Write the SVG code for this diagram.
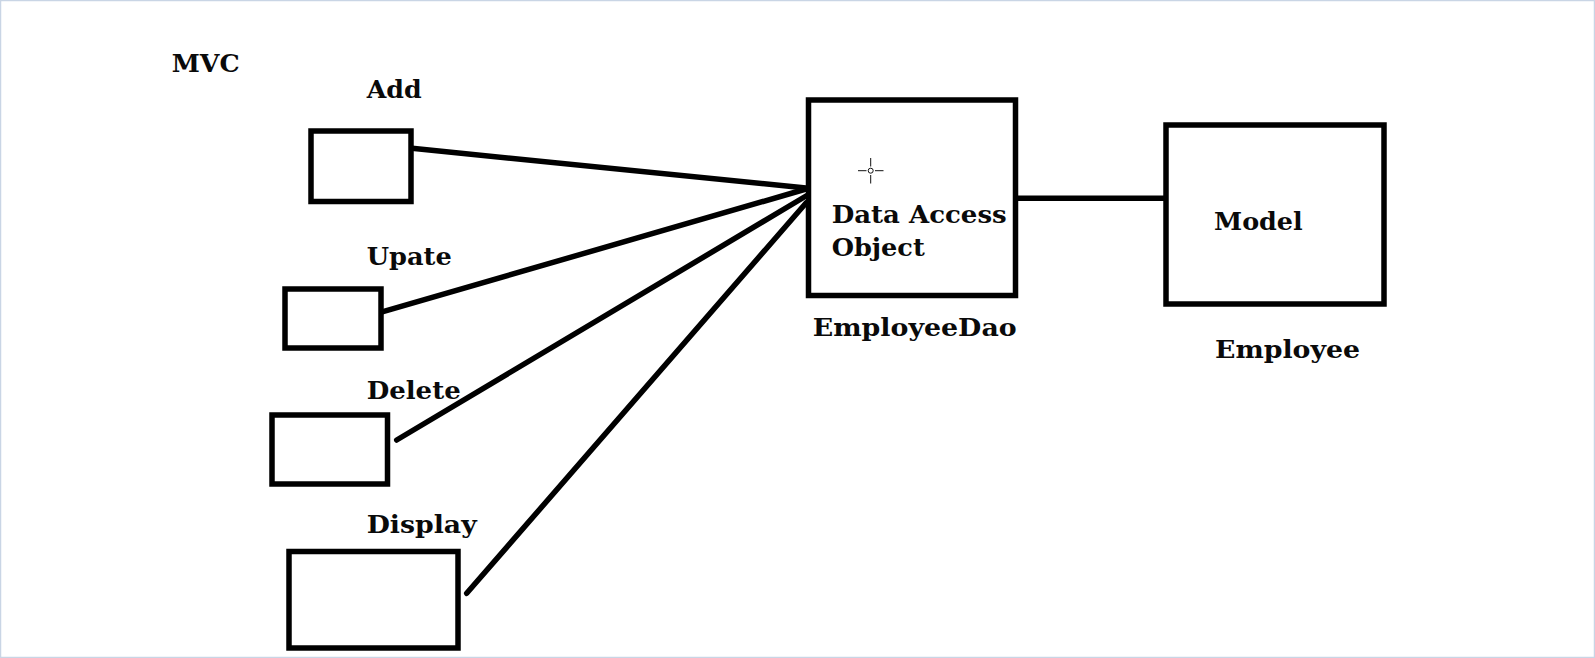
<svg xmlns="http://www.w3.org/2000/svg" width="1595" height="658" viewBox="0 0 1595 658">
  <style>
    .box { fill: #ffffff; stroke: #000000; stroke-width: 5.5; }
    .lbl { font-family: "DejaVu Serif", "Liberation Serif", serif; font-weight: bold; font-size: 25px; fill: #0a0a0a; }
    .conn { stroke: #000000; stroke-width: 5.5; stroke-linecap: round; fill: none; }
  </style>
  <rect x="0" y="0" width="1595" height="658" fill="#ffffff"/>
  <rect x="0.5" y="0.5" width="1594" height="657" fill="none" stroke="#c9d5e5" stroke-width="1.5"/>

  <text id="title" class="lbl" x="171.7" y="72.3" textLength="68" lengthAdjust="spacingAndGlyphs">MVC</text>

  <g id="connectors">
    <line class="conn" x1="412" y1="148.3" x2="806" y2="188"/>
    <line class="conn" x1="383" y1="311.7" x2="806" y2="189"/>
    <line class="conn" x1="396.7" y1="440" x2="806" y2="196"/>
    <line class="conn" x1="466.7" y1="593.3" x2="806" y2="203"/>
    <line class="conn" x1="1016" y1="198.3" x2="1167" y2="198.3"/>
  </g>

  <g id="add">
    <text class="lbl" x="366.7" y="97.7" textLength="55" lengthAdjust="spacingAndGlyphs">Add</text>
    <rect class="box" x="311" y="131" width="100" height="70.5"/>
  </g>

  <g id="update">
    <text class="lbl" x="366.7" y="265" textLength="85" lengthAdjust="spacingAndGlyphs">Upate</text>
    <rect class="box" x="285" y="289" width="96" height="59"/>
  </g>

  <g id="delete">
    <text class="lbl" x="366.7" y="399.3" textLength="94" lengthAdjust="spacingAndGlyphs">Delete</text>
    <rect class="box" x="272" y="415" width="115.5" height="69"/>
  </g>

  <g id="display">
    <text class="lbl" x="366.7" y="533.3" textLength="110" lengthAdjust="spacingAndGlyphs">Display</text>
    <rect class="box" x="289" y="551.5" width="169" height="96.5"/>
  </g>

  <g id="dao">
    <rect class="box" x="808.5" y="100" width="207" height="195.5"/>
    <text class="lbl" x="831.7" y="223.3" textLength="175" lengthAdjust="spacingAndGlyphs">Data Access</text>
    <text class="lbl" x="831.7" y="256" textLength="93" lengthAdjust="spacingAndGlyphs">Object</text>
    <text class="lbl" x="812.7" y="336" textLength="204" lengthAdjust="spacingAndGlyphs">EmployeeDao</text>
  </g>

  <g id="model">
    <rect class="box" x="1166" y="125" width="218" height="179"/>
    <text class="lbl" x="1214" y="230" textLength="88.7" lengthAdjust="spacingAndGlyphs">Model</text>
    <text class="lbl" x="1215" y="358" textLength="145" lengthAdjust="spacingAndGlyphs">Employee</text>
  </g>

  <g id="cursor" stroke="#111111" stroke-width="1" fill="none">
    <line x1="858" y1="170.7" x2="866.5" y2="170.7"/>
    <line x1="875" y1="170.7" x2="883.5" y2="170.7"/>
    <line x1="870.7" y1="158" x2="870.7" y2="166.5"/>
    <line x1="870.7" y1="175" x2="870.7" y2="183.5"/>
    <circle cx="870.7" cy="170.7" r="2.5"/>
  </g>
</svg>
